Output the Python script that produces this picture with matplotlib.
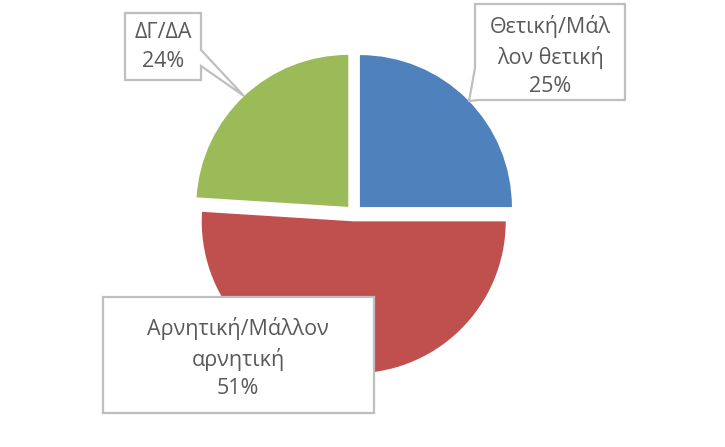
import matplotlib.pyplot as plt
from matplotlib.patches import Polygon

# data
labels = ["Θετική/Μάλ\nλον θετική", "Αρνητική/Μάλλον\nαρνητική", "ΔΓ/ΔΑ"]
values = [25, 51, 24]
colors = ["#4F81BD", "#C0504D", "#9BBB59"]

W, H = 725, 447
R = 152
fig = plt.figure(figsize=(W / 100, H / 100), dpi=100)
ax = fig.add_axes([0, 0, 1, 1])

# explode is in data units, so scale by the radius
ax.pie(values, colors=colors, startangle=90, counterclock=False,
       explode=[0.055 * R] * 3, center=(354, H - 213), radius=R,
       wedgeprops=dict(linewidth=0), frame=True)
ax.set_xlim(0, W)
ax.set_ylim(0, H)
ax.axis("off")

# callout shapes in image pixel coords (y down), then text lines
callouts = [
    [(475, 4), (625, 4), (625, 100), (478, 100), (469, 101), (475, 68)],
    [(103, 297), (374, 297), (374, 413), (103, 413)],
    [(125, 13), (201, 13), (201, 50), (244, 96), (201, 66), (201, 80), (125, 80)],
]
text_pos = [(550, 56), (238, 358), (163, 47)]

for i, shape in enumerate(callouts):
    pts = [(x, H - y) for x, y in shape]
    ax.add_patch(Polygon(pts, closed=True, facecolor="white",
                         edgecolor="#BFBFBF", linewidth=1.6, zorder=5))
    tx, ty = text_pos[i]
    ax.text(tx, H - ty, f"{labels[i]}\n{values[i]}%", ha="center", va="center",
            fontsize=15.5, color="#595959", family="Open Sans",
            linespacing=1.45, zorder=6)

fig.savefig("out.png", dpi=100)
